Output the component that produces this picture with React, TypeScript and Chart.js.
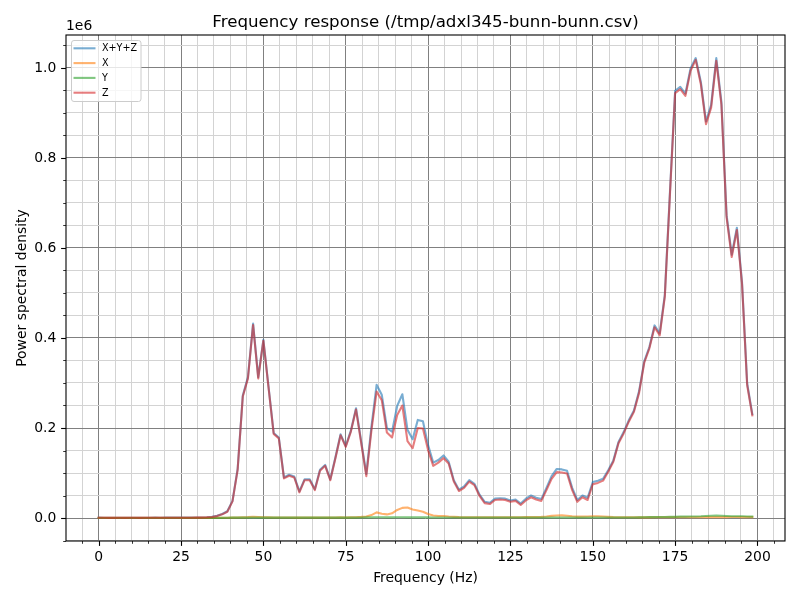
import React, { useEffect, useRef } from "react";
import { Chart, registerables } from "chart.js";

Chart.register(...registerables);

const TITLE = "Frequency response (/tmp/adxl345-bunn-bunn.csv)";
const X_LABEL = "Frequency (Hz)";
const Y_LABEL = "Power spectral density";
const Y_OFFSET_LABEL = "1e6";

const SERIES_NAMES = ["X+Y+Z", "X", "Y", "Z"];

// frequency bins (Hz)
const FREQS = [
  0, 1.5625, 3.125, 4.6875, 6.25, 7.8125, 9.375, 10.9375, 12.5, 14.0625,
  15.625, 17.1875, 18.75, 20.3125, 21.875, 23.4375, 25, 26.5625, 28.125, 29.6875,
  31.25, 32.8125, 34.375, 35.9375, 37.5, 39.0625, 40.625, 42.1875, 43.75, 45.3125,
  46.875, 48.4375, 50, 51.5625, 53.125, 54.6875, 56.25, 57.8125, 59.375, 60.9375,
  62.5, 64.0625, 65.625, 67.1875, 68.75, 70.3125, 71.875, 73.4375, 75, 76.5625,
  78.125, 79.6875, 81.25, 82.8125, 84.375, 85.9375, 87.5, 89.0625, 90.625, 92.1875,
  93.75, 95.3125, 96.875, 98.4375, 100, 101.5625, 103.125, 104.6875, 106.25, 107.8125,
  109.375, 110.9375, 112.5, 114.0625, 115.625, 117.1875, 118.75, 120.3125, 121.875, 123.4375,
  125, 126.5625, 128.125, 129.6875, 131.25, 132.8125, 134.375, 135.9375, 137.5, 139.0625,
  140.625, 142.1875, 143.75, 145.3125, 146.875, 148.4375, 150, 151.5625, 153.125, 154.6875,
  156.25, 157.8125, 159.375, 160.9375, 162.5, 164.0625, 165.625, 167.1875, 168.75, 170.3125,
  171.875, 173.4375, 175, 176.5625, 178.125, 179.6875, 181.25, 182.8125, 184.375, 185.9375,
  187.5, 189.0625, 190.625, 192.1875, 193.75, 195.3125, 196.875, 198.4375,
];

// PSD values in units of 1e6
const PSD_XYZ = [
  0.0009, 0.0007, 0.0006, 0.0006, 0.0007, 0.0006, 0.0007, 0.0007, 0.0006, 0.0007,
  0.0007, 0.0008, 0.0007, 0.0008, 0.0008, 0.0009, 0.0009, 0.001, 0.001, 0.0011,
  0.0012, 0.0017, 0.0027, 0.0048, 0.009, 0.015, 0.038, 0.109, 0.272, 0.313,
  0.432, 0.313, 0.396, 0.292, 0.189, 0.179, 0.09, 0.096, 0.092, 0.059,
  0.086, 0.086, 0.064, 0.107, 0.118, 0.086, 0.135, 0.186, 0.16, 0.194,
  0.244, 0.171, 0.098, 0.203, 0.296, 0.274, 0.2, 0.192, 0.249, 0.275,
  0.196, 0.175, 0.218, 0.215, 0.162, 0.123, 0.129, 0.139, 0.125, 0.084,
  0.063, 0.07, 0.084, 0.076, 0.052, 0.036, 0.034, 0.043, 0.044, 0.043,
  0.039, 0.041, 0.032, 0.043, 0.05, 0.045, 0.042, 0.067, 0.093, 0.109,
  0.108, 0.105, 0.067, 0.04, 0.05, 0.045, 0.08, 0.083, 0.087, 0.106,
  0.128, 0.169, 0.191, 0.217, 0.239, 0.282, 0.348, 0.38, 0.428, 0.41,
  0.496, 0.725, 0.949, 0.958, 0.943, 0.999, 1.022, 0.969, 0.881, 0.918,
  1.022, 0.924, 0.673, 0.585, 0.645, 0.524, 0.299, 0.231,
];

const PSD_X = [
  0.0002, 0.0002, 0.0002, 0.0002, 0.0002, 0.0002, 0.0002, 0.0002, 0.0002, 0.0002,
  0.0002, 0.0002, 0.0002, 0.0002, 0.0002, 0.0002, 0.0002, 0.0002, 0.0002, 0.0002,
  0.0002, 0.0003, 0.0003, 0.0004, 0.0005, 0.0006, 0.0008, 0.0012, 0.0015, 0.002,
  0.0028, 0.0022, 0.0018, 0.0015, 0.0012, 0.0012, 0.001, 0.001, 0.0009, 0.0009,
  0.001, 0.001, 0.0009, 0.001, 0.001, 0.0009, 0.0011, 0.0013, 0.0012, 0.0014,
  0.0018, 0.0025, 0.0035, 0.0065, 0.0125, 0.0095, 0.008, 0.0105, 0.018, 0.0225,
  0.0235, 0.019, 0.0165, 0.014, 0.009, 0.0055, 0.0045, 0.0045, 0.0032, 0.0025,
  0.002, 0.0018, 0.0018, 0.0018, 0.0017, 0.0017, 0.0017, 0.0018, 0.0018, 0.0018,
  0.0018, 0.0018, 0.0017, 0.0019, 0.002, 0.002, 0.0025, 0.0035, 0.0048, 0.0055,
  0.0058, 0.005, 0.0038, 0.003, 0.003, 0.0035, 0.004, 0.004, 0.0032, 0.0025,
  0.002, 0.0018, 0.0017, 0.0016, 0.0016, 0.0015, 0.0015, 0.0015, 0.0016, 0.0016,
  0.0016, 0.0016, 0.0017, 0.0017, 0.0017, 0.0018, 0.0018, 0.0018, 0.0019, 0.0019,
  0.002, 0.002, 0.002, 0.0021, 0.0021, 0.002, 0.002, 0.0019,
];

const PSD_Y = [
  0.0001, 0.0001, 0.0001, 0.0001, 0.0001, 0.0001, 0.0001, 0.0001, 0.0001, 0.0001,
  0.0001, 0.0001, 0.0001, 0.0001, 0.0001, 0.0001, 0.0001, 0.0001, 0.0001, 0.0001,
  0.0001, 0.0001, 0.0002, 0.0002, 0.0003, 0.0004, 0.0008, 0.0008, 0.0008, 0.0009,
  0.001, 0.0009, 0.0008, 0.0008, 0.0008, 0.0008, 0.0008, 0.0008, 0.0008, 0.0008,
  0.0008, 0.0008, 0.0008, 0.0008, 0.0008, 0.0008, 0.0008, 0.0008, 0.0008, 0.0008,
  0.0009, 0.0012, 0.0015, 0.0015, 0.0016, 0.0016, 0.0015, 0.0015, 0.0016, 0.0016,
  0.0015, 0.0015, 0.0015, 0.0014, 0.0013, 0.0012, 0.001, 0.001, 0.001, 0.001,
  0.001, 0.001, 0.001, 0.001, 0.001, 0.001, 0.001, 0.001, 0.001, 0.001,
  0.001, 0.001, 0.001, 0.001, 0.001, 0.001, 0.001, 0.001, 0.0011, 0.0011,
  0.0011, 0.0011, 0.001, 0.001, 0.001, 0.001, 0.001, 0.001, 0.001, 0.001,
  0.001, 0.001, 0.001, 0.001, 0.0012, 0.0014, 0.0018, 0.002, 0.002, 0.0022,
  0.0022, 0.0024, 0.0026, 0.003, 0.003, 0.0032, 0.0035, 0.0038, 0.0045, 0.005,
  0.0055, 0.005, 0.0046, 0.004, 0.004, 0.0038, 0.0032, 0.003,
];

const PSD_Z = [
  0.0006, 0.0004, 0.0003, 0.0003, 0.0004, 0.0003, 0.0004, 0.0004, 0.0003, 0.0004,
  0.0004, 0.0005, 0.0004, 0.0005, 0.0005, 0.0006, 0.0006, 0.0007, 0.0007, 0.0008,
  0.0009, 0.0013, 0.0022, 0.0042, 0.0082, 0.014, 0.037, 0.107, 0.27, 0.31,
  0.429, 0.31, 0.394, 0.29, 0.187, 0.177, 0.088, 0.094, 0.09, 0.057,
  0.084, 0.084, 0.062, 0.105, 0.116, 0.084, 0.133, 0.184, 0.158, 0.192,
  0.241, 0.167, 0.093, 0.195, 0.281, 0.262, 0.19, 0.179, 0.229, 0.25,
  0.171, 0.155, 0.2, 0.199, 0.151, 0.116, 0.123, 0.133, 0.121, 0.081,
  0.06, 0.067, 0.081, 0.073, 0.049, 0.033, 0.031, 0.04, 0.041, 0.04,
  0.036, 0.038, 0.029, 0.039, 0.046, 0.041, 0.038, 0.062, 0.087, 0.102,
  0.101, 0.099, 0.062, 0.036, 0.046, 0.04, 0.075, 0.078, 0.083, 0.103,
  0.125, 0.166, 0.188, 0.214, 0.236, 0.278, 0.345, 0.377, 0.424, 0.406,
  0.492, 0.72, 0.944, 0.953, 0.938, 0.994, 1.018, 0.964, 0.875, 0.912,
  1.016, 0.918, 0.668, 0.58, 0.64, 0.52, 0.295, 0.228,
];

const X_MAJOR_TICKS = [0, 25, 50, 75, 100, 125, 150, 175, 200];
const X_MINOR_TICKS = [
  -5, 0, 5, 10, 15, 20, 25, 30, 35, 40, 45, 50, 55, 60, 65, 70, 75, 80, 85, 90, 95,
  100, 105, 110, 115, 120, 125, 130, 135, 140, 145, 150, 155, 160, 165, 170, 175,
  180, 185, 190, 195, 200, 205,
];
const Y_MAJOR_TICKS = [0, 0.2, 0.4, 0.6, 0.8, 1.0];
const Y_MAJOR_LABELS = ["0.0", "0.2", "0.4", "0.6", "0.8", "1.0"];
const Y_MINOR_TICKS = [
  -0.05, 0, 0.05, 0.1, 0.15, 0.2, 0.25, 0.3, 0.35, 0.4, 0.45, 0.5, 0.55, 0.6, 0.65,
  0.7, 0.75, 0.8, 0.85, 0.9, 0.95, 1.0, 1.05,
];

const COLORS = [
  "rgba(31,119,180,0.6)",
  "rgba(255,127,14,0.6)",
  "rgba(44,160,44,0.6)",
  "rgba(214,39,40,0.6)",
];

const FONT = '"DejaVu Sans", sans-serif';

const isXMajor = (v: number) => X_MAJOR_TICKS.some((t) => Math.abs(t - v) < 1e-9);
const yMajorIndex = (v: number) => Y_MAJOR_TICKS.findIndex((t) => Math.abs(t - v) < 1e-9);

const overlayPlugin = {
  id: "mplOverlay",
  afterDraw(chart: any) {
    const ctx = chart.ctx as CanvasRenderingContext2D;
    const a = chart.chartArea;
    const xs = chart.scales.x;
    const ys = chart.scales.y;
    ctx.save();
    ctx.strokeStyle = "#000";
    // x tick marks
    for (const v of X_MINOR_TICKS) {
      const major = isXMajor(v);
      const px = Math.round(xs.getPixelForValue(v)) + 0.5;
      ctx.lineWidth = major ? 1.1 : 0.8;
      ctx.beginPath();
      ctx.moveTo(px, a.bottom);
      ctx.lineTo(px, a.bottom + (major ? 4.9 : 2.8));
      ctx.stroke();
    }
    // y tick marks
    for (const v of Y_MINOR_TICKS) {
      const major = yMajorIndex(v) >= 0;
      const py = Math.round(ys.getPixelForValue(v)) + 0.5;
      ctx.lineWidth = major ? 1.1 : 0.8;
      ctx.beginPath();
      ctx.moveTo(a.left, py);
      ctx.lineTo(a.left - (major ? 4.9 : 2.8), py);
      ctx.stroke();
    }
    // frame (spines)
    ctx.lineWidth = 1.1;
    ctx.strokeRect(a.left, a.top, a.right - a.left, a.bottom - a.top);

    // legend
    const lx = 71.5, ly = 40.5, lw = 69.5, lh = 61;
    ctx.beginPath();
    const r = 2.5;
    ctx.moveTo(lx + r, ly);
    ctx.lineTo(lx + lw - r, ly);
    ctx.quadraticCurveTo(lx + lw, ly, lx + lw, ly + r);
    ctx.lineTo(lx + lw, ly + lh - r);
    ctx.quadraticCurveTo(lx + lw, ly + lh, lx + lw - r, ly + lh);
    ctx.lineTo(lx + r, ly + lh);
    ctx.quadraticCurveTo(lx, ly + lh, lx, ly + lh - r);
    ctx.lineTo(lx, ly + r);
    ctx.quadraticCurveTo(lx, ly, lx + r, ly);
    ctx.closePath();
    ctx.fillStyle = "rgba(255,255,255,0.8)";
    ctx.fill();
    ctx.strokeStyle = "#cccccc";
    ctx.lineWidth = 1;
    ctx.stroke();
    ctx.font = `9.6px ${FONT}`;
    ctx.textAlign = "left";
    ctx.textBaseline = "middle";
    SERIES_NAMES.forEach((name, i) => {
      const yy = 48.3 + i * 14.8;
      ctx.strokeStyle = COLORS[i];
      ctx.lineWidth = 2.1;
      ctx.beginPath();
      ctx.moveTo(73.5, yy);
      ctx.lineTo(95.5, yy);
      ctx.stroke();
      ctx.fillStyle = "#000";
      ctx.fillText(name, 102, yy + 0.5);
    });

    // title
    ctx.fillStyle = "#000";
    ctx.font = `16.67px ${FONT}`;
    ctx.textAlign = "center";
    ctx.textBaseline = "alphabetic";
    ctx.fillText(TITLE, (a.left + a.right) / 2, a.top - 8.3);
    // offset text
    ctx.font = `13.9px ${FONT}`;
    ctx.textAlign = "left";
    ctx.fillText(Y_OFFSET_LABEL, a.left, a.top - 5);
    // x label
    ctx.textAlign = "center";
    ctx.fillText(X_LABEL, (a.left + a.right) / 2, 582);
    // y label
    ctx.save();
    ctx.translate(26, (a.top + a.bottom) / 2);
    ctx.rotate(-Math.PI / 2);
    ctx.textAlign = "center";
    ctx.fillText(Y_LABEL, 0, 0);
    ctx.restore();
    ctx.restore();
  },
};

export default function App() {
  const canvasRef = useRef<HTMLCanvasElement | null>(null);

  useEffect(() => {
    const canvas = canvasRef.current;
    if (!canvas) return;
    const seriesValues = [PSD_XYZ, PSD_X, PSD_Y, PSD_Z];
    const orders = [3, 2, 1, 0];
    const datasets = SERIES_NAMES.map((name, i) => ({
      label: name,
      data: FREQS.map((f, k) => ({ x: f, y: seriesValues[i][k] })),
      borderColor: COLORS[i],
      backgroundColor: COLORS[i],
      borderWidth: 2.1,
      pointRadius: 0,
      tension: 0,
      fill: false,
      borderJoinStyle: "round" as const,
      borderCapStyle: "square" as const,
      order: orders[i],
    }));

    const chart = new Chart(canvas, {
      type: "line",
      data: { datasets },
      options: {
        animation: false,
        responsive: false,
        devicePixelRatio: 1,
        events: [],
        layout: { padding: { left: 0, top: 35, right: 15, bottom: 0 } },
        plugins: {
          legend: { display: false },
          title: { display: false },
          tooltip: { enabled: false },
        },
        scales: {
          x: {
            type: "linear",
            min: -9.921875,
            max: 208.359375,
            afterBuildTicks: (scale: any) => {
              scale.ticks = X_MINOR_TICKS.map((v) => ({ value: v }));
            },
            afterFit: (scale: any) => {
              scale.height = 59;
            },
            ticks: {
              autoSkip: false,
              maxRotation: 0,
              minRotation: 0,
              padding: 8,
              color: "#000",
              font: { family: FONT, size: 13.9 },
              callback: (v: any) => (isXMajor(Number(v)) ? String(Math.round(Number(v))) : ""),
            },
            grid: {
              drawTicks: false,
              lineWidth: 1,
              color: (c: any) => (c.tick && isXMajor(c.tick.value) ? "#808080" : "#d3d3d3"),
            },
            border: { display: false },
          },
          y: {
            type: "linear",
            min: -0.0511,
            max: 1.0733,
            afterBuildTicks: (scale: any) => {
              scale.ticks = Y_MINOR_TICKS.map((v) => ({ value: v }));
            },
            afterFit: (scale: any) => {
              scale.width = 66;
            },
            ticks: {
              autoSkip: false,
              padding: 9.7,
              color: "#000",
              font: { family: FONT, size: 13.9 },
              callback: (v: any) => {
                const idx = yMajorIndex(Number(v));
                return idx >= 0 ? Y_MAJOR_LABELS[idx] : "";
              },
            },
            grid: {
              drawTicks: false,
              lineWidth: 1,
              color: (c: any) => (c.tick && yMajorIndex(c.tick.value) >= 0 ? "#808080" : "#d3d3d3"),
            },
            border: { display: false },
          },
        },
      },
      plugins: [overlayPlugin],
    });
    return () => chart.destroy();
  }, []);

  return (
    <div style={{ position: "absolute", left: 0, top: 0, width: 800, height: 600, background: "#fff" }}>
      <canvas ref={canvasRef} width={800} height={600} style={{ width: 800, height: 600, display: "block" }} />
    </div>
  );
}
